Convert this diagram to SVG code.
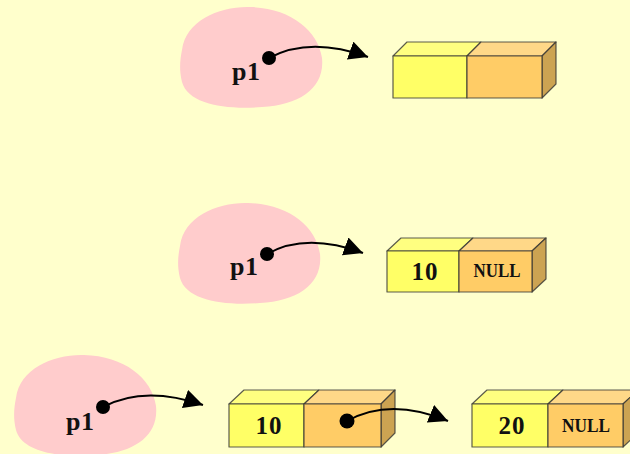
<svg xmlns="http://www.w3.org/2000/svg" xmlns:xlink="http://www.w3.org/1999/xlink" width="630" height="454" viewBox="0 0 630 454">
<style>
.bg{fill:#FFFFCC}
.blob{fill:#FFCCCC}
.edge{stroke:#333;stroke-opacity:0.8;stroke-width:1.2;stroke-linejoin:round}
.fy{fill:#FFFF66}
.fo{fill:#FFCC66}
.ty{fill:#FFFF80}
.to{fill:#FFD888}
.sd{fill:#CCA352}
.lbl{font-family:"Liberation Serif",serif;font-size:26px;font-weight:bold;fill:#111;letter-spacing:0.5px}
.num{font-family:"Liberation Serif",serif;font-size:25px;font-weight:bold;fill:#111;text-anchor:middle;letter-spacing:1px}
.null{font-family:"Liberation Serif",serif;font-size:19px;font-weight:bold;fill:#111;text-anchor:middle}
.wire{fill:none;stroke:#000;stroke-width:2}
.dot{fill:#000}
</style>
<defs>
<path id="blobShape" d="M182,50 C186,20 220,6 250,7 C290,8 318,30 322,58 C325,88 300,105 262,107 C225,110 188,104 182,82 C179,70 180,60 182,50 Z"/>
<marker id="ah" markerUnits="userSpaceOnUse" markerWidth="20" markerHeight="20" refX="19" refY="9.5" orient="auto">
<path d="M0,0 L19,9.5 L0,19 Z" fill="#000"/>
</marker>
</defs>
<rect class="bg" x="0" y="0" width="630" height="454"/>

<g id="pointer1">
<use xlink:href="#blobShape" class="blob"/>
<text class="lbl" x="232" y="80">p1</text>
</g>
<g id="pointer2">
<use xlink:href="#blobShape" class="blob" transform="translate(-2,196)"/>
<text class="lbl" x="230" y="275">p1</text>
</g>
<g id="pointer3">
<use xlink:href="#blobShape" class="blob" transform="translate(-166,348)"/>
<text class="lbl" x="66" y="430">p1</text>
</g>

<g id="node1">
<polygon class="ty edge" points="393,56 407,42 481,42 467,56"/>
<polygon class="to edge" points="467,56 481,42 556,42 542,56"/>
<polygon class="sd edge" points="542,56 556,42 556,84 542,98"/>
<rect class="fy edge" x="393" y="56" width="74" height="42"/>
<rect class="fo edge" x="467" y="56" width="75" height="42"/>
</g>

<g id="node2">
<polygon class="ty edge" points="387,251 401,238 473,238 459,251"/>
<polygon class="to edge" points="459,251 473,238 546,238 532,251"/>
<polygon class="sd edge" points="532,251 546,238 546,279 532,292"/>
<rect class="fy edge" x="387" y="251" width="72" height="41"/>
<rect class="fo edge" x="459" y="251" width="73" height="41"/>
<text class="num" x="425" y="280">10</text>
<text class="null" x="497" y="277" textLength="47" lengthAdjust="spacingAndGlyphs">NULL</text>
</g>

<g id="node3">
<polygon class="ty edge" points="229,404 244,390 319,390 304,404"/>
<polygon class="to edge" points="304,404 319,390 395,390 381,404"/>
<polygon class="sd edge" points="381,404 395,390 395,433 381,447"/>
<rect class="fy edge" x="229" y="404" width="75" height="43"/>
<rect class="fo edge" x="304" y="404" width="77" height="43"/>
<text class="num" x="269" y="434">10</text>
</g>

<g id="node4">
<polygon class="ty edge" points="472,404 487,390 563,390 548,404"/>
<polygon class="to edge" points="548,404 563,390 638,390 623,404"/>
<polygon class="sd edge" points="623,404 638,390 638,433 623,447"/>
<rect class="fy edge" x="472" y="404" width="76" height="43"/>
<rect class="fo edge" x="548" y="404" width="75" height="43"/>
<text class="num" x="512" y="434">20</text>
<text class="null" x="586" y="432" textLength="48" lengthAdjust="spacingAndGlyphs">NULL</text>
</g>

<g id="connectors">
<circle class="dot" cx="269" cy="58" r="7"/>
<path class="wire" d="M269,58 Q310,36 368,57" marker-end="url(#ah)"/>
<circle class="dot" cx="267" cy="254" r="7"/>
<path class="wire" d="M267,254 Q306,232 363,253" marker-end="url(#ah)"/>
<circle class="dot" cx="103" cy="407" r="7"/>
<path class="wire" d="M103,407 Q144,385 203,405" marker-end="url(#ah)"/>
<circle class="dot" cx="347" cy="421" r="7.5"/>
<path class="wire" d="M347,421 Q390,397 448,421" marker-end="url(#ah)"/>
</g>
</svg>
